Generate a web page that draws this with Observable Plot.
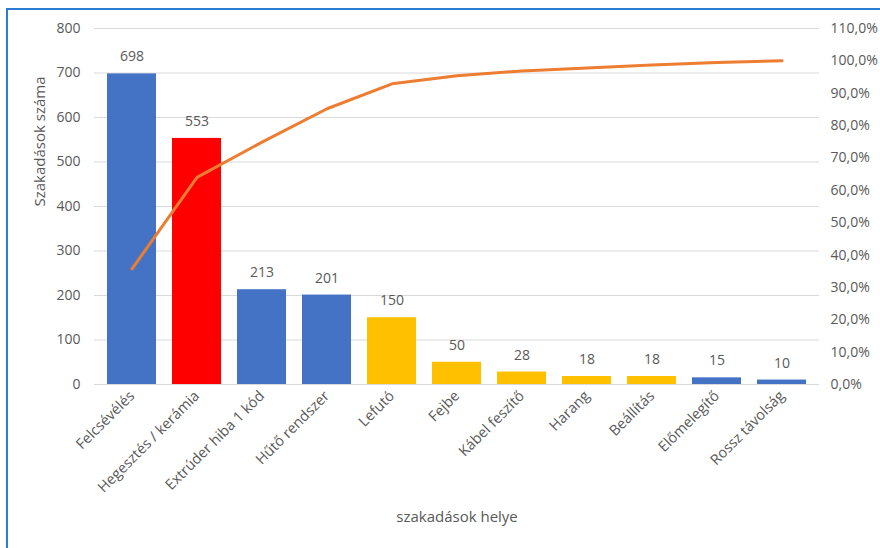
<!DOCTYPE html>
<html>
<head>
<meta charset="utf-8">
<script src="https://cdn.jsdelivr.net/npm/d3@7"></script>
<script src="https://cdn.jsdelivr.net/npm/@observablehq/plot@0.6"></script>
<style>
  html, body { margin: 0; padding: 0; background: #fff; }
  #wrap { position: relative; width: 880px; height: 548px; overflow: hidden; }
  #border { position: absolute; left: 6px; top: 8px; width: 900px; height: 600px;
            border-top: 2px solid #2B7CD3; border-left: 2px solid #2B7CD3; box-sizing: border-box; }
  #chart { position: absolute; left: 0; top: 0; }
</style>
</head>
<body>
<div id="wrap"><div id="border"></div><div id="chart"></div></div>
<script>
const categories = ["Felcsévélés", "Hegesztés / kerámia", "Extrúder hiba 1 kód", "Hűtő rendszer", "Lefutó", "Fejbe", "Kábel feszítő", "Harang", "Beállítás", "Előmelegítő", "Rossz távolság"];
const counts = [698, 553, 213, 201, 150, 50, 28, 18, 18, 15, 10];
const groups = ["A", "B", "A", "A", "C", "C", "C", "C", "C", "A", "A"];
const cumulativePct = [35.7, 64.0, 74.9, 85.2, 92.9, 95.4, 96.9, 97.8, 98.7, 99.5, 100.0];
const leftTicks = [0, 100, 200, 300, 400, 500, 600, 700, 800];
const rightTicks = [0, 10, 20, 30, 40, 50, 60, 70, 80, 90, 100, 110];
const yTitle = "Szakadások száma";
const xTitle = "szakadások helye";

const yMax = 800, pMax = 110;
const bars = categories.map((c, i) => ({cat: c, n: counts[i], g: groups[i]}));
const line = categories.map((c, i) => ({cat: c, p: cumulativePct[i]}));
const toY = p => p * yMax / pMax;
const fmtPct = p => p.toFixed(1).replace(".", ",") + "%";
const gray = "#595959";

const plot = Plot.plot({
  width: 880,
  height: 548,
  marginTop: 28,
  marginBottom: 164,
  marginLeft: 94,
  marginRight: 61,
  style: {fontFamily: "'Open Sans', sans-serif", fontSize: "14px", color: gray, background: "transparent"},
  x: {domain: categories, paddingInner: 0.24, paddingOuter: 0.12, label: null},
  y: {domain: [0, yMax], label: null},
  color: {domain: ["A", "B", "C"], range: ["#4472C4", "#FF0000", "#FFC000"]},
  marks: [
    Plot.ruleY(leftTicks, {stroke: "#D9D9D9", strokeWidth: 1}),
    Plot.barY(bars, {x: "cat", y: "n", fill: "g"}),
    Plot.text(bars, {x: "cat", y: "n", text: d => String(d.n), dy: -17, fill: gray, fontSize: 14}),
    Plot.line(line, {x: "cat", y: d => toY(d.p), stroke: "#ED7D31", strokeWidth: 3}),
    Plot.axisY(leftTicks, {anchor: "left", tickSize: 0, tickPadding: 14, fontSize: 14, fill: gray, label: null}),
    Plot.axisY(rightTicks.map(toY), {anchor: "right", tickSize: 0, tickPadding: 11, fontSize: 14, fill: gray, label: null,
      tickFormat: v => fmtPct(v * pMax / yMax)}),
    Plot.axisX({tickSize: 0, tickPadding: 9, tickRotate: -45, fontSize: 14.5, fill: gray, label: null}),
    Plot.text([yTitle], {frameAnchor: "left", dx: -54, dy: 0, rotate: -90, fontSize: 15, fill: gray}),
    Plot.text([xTitle], {frameAnchor: "bottom", dy: 137, fontSize: 15, fill: gray})
  ]
});
document.getElementById("chart").appendChild(plot);
</script>
</body>
</html>
